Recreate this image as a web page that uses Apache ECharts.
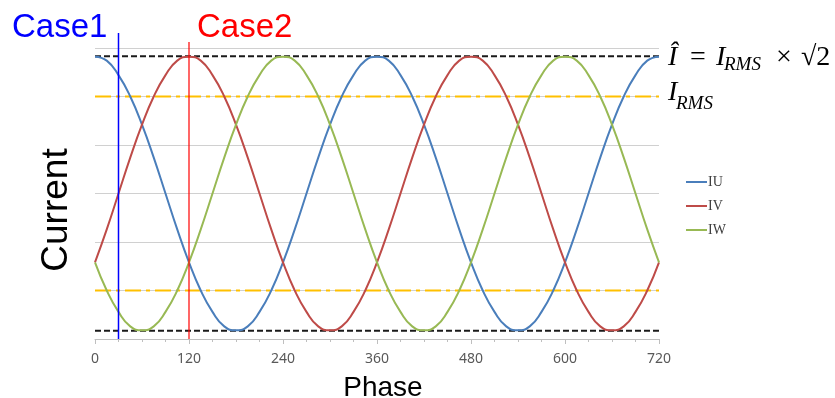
<!DOCTYPE html>
<html><head><meta charset="utf-8">
<script src="https://cdn.jsdelivr.net/npm/echarts@6/dist/echarts.min.js"></script>
<style>html,body{margin:0;padding:0;background:#fff}#c{width:835px;height:398px}</style>
</head><body><div id="c"></div>
<script>
// ---- data ----
const phases = [0,15,30,45,60,75,90,105,120,135,150,165,180,195,210,225,240,255,270,285,300,315,330,345,
  360,375,390,405,420,435,450,465,480,495,510,525,540,555,570,585,600,615,630,645,660,675,690,705,720];
const iu = [1.41,1.37,1.22,1.00,0.71,0.37,0,-0.37,-0.71,-1.00,-1.22,-1.37,-1.41,-1.37,-1.22,-1.00,-0.71,-0.37,0,0.37,0.71,1.00,1.22,1.37,
  1.41,1.37,1.22,1.00,0.71,0.37,0,-0.37,-0.71,-1.00,-1.22,-1.37,-1.41,-1.37,-1.22,-1.00,-0.71,-0.37,0,0.37,0.71,1.00,1.22,1.37,1.41];
const iv = [-0.71,-0.37,0,0.37,0.71,1.00,1.22,1.37,1.41,1.37,1.22,1.00,0.71,0.37,0,-0.37,-0.71,-1.00,-1.22,-1.37,-1.41,-1.37,-1.22,-1.00,
  -0.71,-0.37,0,0.37,0.71,1.00,1.22,1.37,1.41,1.37,1.22,1.00,0.71,0.37,0,-0.37,-0.71,-1.00,-1.22,-1.37,-1.41,-1.37,-1.22,-1.00,-0.71];
const iw = [-0.71,-1.00,-1.22,-1.37,-1.41,-1.37,-1.22,-1.00,-0.71,-0.37,0,0.37,0.71,1.00,1.22,1.37,1.41,1.37,1.22,1.00,0.71,0.37,0,-0.37,
  -0.71,-1.00,-1.22,-1.37,-1.41,-1.37,-1.22,-1.00,-0.71,-0.37,0,0.37,0.71,1.00,1.22,1.37,1.41,1.37,1.22,1.00,0.71,0.37,0,-0.37,-0.71];
const seriesNames = ['IU','IV','IW'];
const xTickLabels = [0,120,240,360,480,600,720];
const peakLevel = 1.414;
const rmsLevel = 1.0;
const phaseRange = [0,720];
const caseNames = ['Case1','Case2'];
const casePhases = [30,120];

// ---- styling ----
const colors = ['#4A7EBB','#BE4B48','#98B954'];
const caseColors = ['#0000FF','#FF0000'];
const pair = (ys) => phases.map((p,i)=>[p, ys[i]]);
const flat = (v) => phaseRange.map(p=>[p, v]);

const chart = echarts.init(document.getElementById('c'), null, {renderer:'canvas'});
const curveSeries = [iu,iv,iw].map((ys,i)=>({
  name: seriesNames[i], type:'line', data: pair(ys), smooth: 0.5, showSymbol:false, symbol:'none',
  lineStyle:{color:colors[i], width:2}, itemStyle:{color:colors[i]}, z:5, animation:false
}));
const refSeries = [
  {v: peakLevel, c:'#1a1a1a', t:[6,3]}, {v:-peakLevel, c:'#1a1a1a', t:[6,3]},
  {v: rmsLevel, c:'#FFC000', t:[16,5,4,5]}, {v:-rmsLevel, c:'#FFC000', t:[16,5,4,5]}
].map(r=>({type:'line', data: flat(r.v), symbol:'none', showSymbol:false, silent:true,
  lineStyle:{color:r.c, width:2, type:r.t}, z:3, animation:false}));

chart.setOption({
  animation:false,
  grid:{left:95, right:176, top:48, bottom:59, outerBoundsMode:'none', containLabel:false},
  xAxis:{type:'value', min:phaseRange[0], max:phaseRange[1], interval:120,
    axisLine:{show:true, onZero:false, lineStyle:{color:'#BFBFBF', width:1}},
    axisTick:{show:true, length:5, lineStyle:{color:'#BFBFBF'}},
    minorTick:{show:true, splitNumber:4, length:3, lineStyle:{color:'#BFBFBF'}},
    splitLine:{show:false},
    axisLabel:{color:'#595959', fontSize:14, fontFamily:'Noto Sans', margin:13,
      formatter:(v)=> xTickLabels.includes(v) ? String(v) : ''},
    name:'Phase', nameLocation:'middle', nameGap:35,
    nameTextStyle:{color:'#000', fontSize:28, fontFamily:'Liberation Sans', padding:[0,0,0,12]}
  },
  yAxis:{type:'value', min:-1.5, max:1.5, interval:0.5,
    axisLine:{show:false}, axisTick:{show:false}, axisLabel:{show:false},
    splitLine:{lineStyle:{color:'#D0D0D0', width:1}}
  },
  legend:{data:seriesNames, orient:'vertical', left:686, top:175, padding:0, icon:'rect',
    itemWidth:21, itemHeight:2, itemGap:10,
    textStyle:{color:'#404040', fontSize:14, lineHeight:14, fontFamily:'Liberation Serif', padding:[0,0,0,-4]}},
  series:[...refSeries, ...curveSeries]
});

// ---- overlay graphics positioned through the chart's own scales ----
const toPx = (x,y)=>chart.convertToPixel({xAxisIndex:0, yAxisIndex:0},[x,y]);
const bottomY = toPx(0,-1.5)[1];
const topY = toPx(0,1.5)[1];
const rightX = toPx(phaseRange[1],0)[0];
const g = [];
const caseTopOffsets = [15,6];
const caseLabelX = [12,197];
casePhases.forEach((p,i)=>{
  const x = toPx(p,0)[0];
  g.push({type:'line', shape:{x1:x,y1:topY-caseTopOffsets[i],x2:x,y2:bottomY},
    style:{stroke:caseColors[i], lineWidth: i===0?1.5:1.2}, z:20});
  g.push({type:'text', x:caseLabelX[i], y:28, style:{text:caseNames[i], fill:caseColors[i],
    font:'33px "Liberation Sans", Arial', align:'left', verticalAlign:'middle'}, z:20});
});
g.push({type:'text', x:57, y:210, rotation:Math.PI/2, style:{text:'Current', fill:'#000',
  font:'37px "Liberation Sans", Arial', align:'center', verticalAlign:'middle'}, z:20});

// formula annotations (pieces placed relative to the plot's right edge and the reference levels)
function piece(t, it, fs, dx, baseline){
  const font = (it?'italic ':'') + fs + 'px "Liberation Serif", serif';
  g.push({type:'text', x:rightX+dx, y:baseline + fs*0.2, style:{text:t, fill:'#000', font:font,
    align:'left', verticalAlign:'bottom'}, z:20});
}
const fsMain = 28, fsSub = 19;
const peakY = toPx(0,peakLevel)[1];
const rmsY = toPx(0,rmsLevel)[1];
piece('Î', true, fsMain, 9, peakY+10);
piece('=', false, fsMain, 31, peakY+10);
piece('I', true, fsMain, 57, peakY+10);
piece('RMS', true, fsSub, 65, peakY+14);
piece('×', false, fsMain, 117, peakY+10);
piece('√2', false, fsMain, 142, peakY+10);
piece('I', true, fsMain, 9, rmsY+5);
piece('RMS', true, fsSub, 17, rmsY+13);

chart.setOption({graphic:g});
</script></body></html>
